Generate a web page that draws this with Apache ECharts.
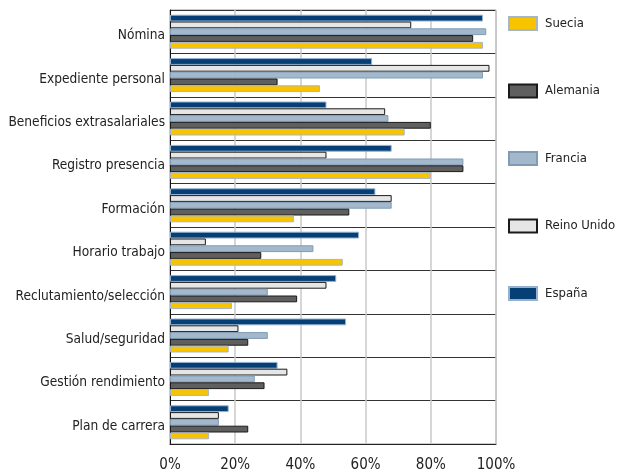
<!DOCTYPE html>
<html>
<head>
<meta charset="utf-8">
<script src="https://cdn.jsdelivr.net/npm/echarts@6/dist/echarts.min.js"></script>
<style>
  html, body { margin: 0; padding: 0; background: #fff; }
  #chart { width: 617px; height: 473px; }
</style>
</head>
<body>
<div id="chart"></div>
<script>
// Categories, top to bottom
const categories = [
  'Nómina', 'Expediente personal', 'Beneficios extrasalariales', 'Registro presencia',
  'Formación', 'Horario trabajo', 'Reclutamiento/selección', 'Salud/seguridad',
  'Gestión rendimiento', 'Plan de carrera'
];

// Share of companies (%) per country, same order as categories
const espana     = [96, 62, 48, 68, 63, 58, 51, 54, 33, 18];
const reinoUnido = [74, 98, 66, 48, 68, 11, 48, 21, 36, 15];
const francia    = [97, 96, 67, 90, 68, 44, 30, 30, 26, 15];
const alemania   = [93, 33, 80, 90, 55, 28, 39, 24, 29, 24];
const suecia     = [96, 46, 72, 80, 38, 53, 19, 18, 12, 12];

const legendOrder = ['Suecia', 'Alemania', 'Francia', 'Reino Unido', 'España'];
const xTicks = [0, 20, 40, 60, 80, 100];

const FONT = '"DejaVu Sans Condensed", "Liberation Sans Narrow", "Roboto", sans-serif';

function barSeries(name, data, fill, border) {
  return {
    name: name,
    type: 'bar',
    data: data,
    barWidth: 6.8,
    barGap: '0%',
    itemStyle: { color: fill, borderColor: border, borderWidth: 1 },
    emphasis: { disabled: true }
  };
}

const chart = echarts.init(document.getElementById('chart'), null, { renderer: 'canvas' });
chart.setOption({
  animation: false,
  backgroundColor: '#ffffff',
  textStyle: { fontFamily: FONT },
  grid: {
    left: 170, right: 121, top: 10, bottom: 29,
    outerBoundsMode: 'none',
    containLabel: false,
    show: true, borderColor: '#9a9a9a', borderWidth: 1
  },
  legend: {
    orient: 'vertical',
    left: 503, top: 11,
    itemWidth: 28, itemHeight: 13, itemGap: 52.5,
    icon: 'rect',
    data: legendOrder,
    textStyle: { fontFamily: FONT, fontSize: 13, color: '#222', padding: [0, 0, 0, 3] }
  },
  xAxis: {
    type: 'value',
    min: xTicks[0], max: xTicks[xTicks.length - 1], interval: 20,
    axisLine: { show: true, lineStyle: { color: '#222', width: 1 } },
    axisTick: { show: false },
    axisLabel: {
      formatter: '{value}%', fontFamily: FONT, fontSize: 15, color: '#222', margin: 14
    },
    splitLine: { show: true, lineStyle: { color: '#c8c8c8', width: 1.5 } }
  },
  yAxis: {
    type: 'category',
    inverse: true,
    data: categories,
    axisLine: { show: true, lineStyle: { color: '#111', width: 1 } },
    axisTick: { show: false },
    axisLabel: {
      fontFamily: FONT, fontSize: 13.6, color: '#222', margin: 5,
      verticalAlign: 'top', lineHeight: 8
    },
    splitLine: { show: true, lineStyle: { color: '#333', width: 1 } }
  },
  series: [
    barSeries('España', espana, '#053f75', '#94b2cf'),
    barSeries('Reino Unido', reinoUnido, '#e6e6e6', '#1a1a1a'),
    barSeries('Francia', francia, '#a3b9cb', '#7f9bb5'),
    barSeries('Alemania', alemania, '#5f5f5f', '#1a1a1a'),
    barSeries('Suecia', suecia, '#f8c400', '#a5b6c8')
  ]
});
</script>
</body>
</html>
